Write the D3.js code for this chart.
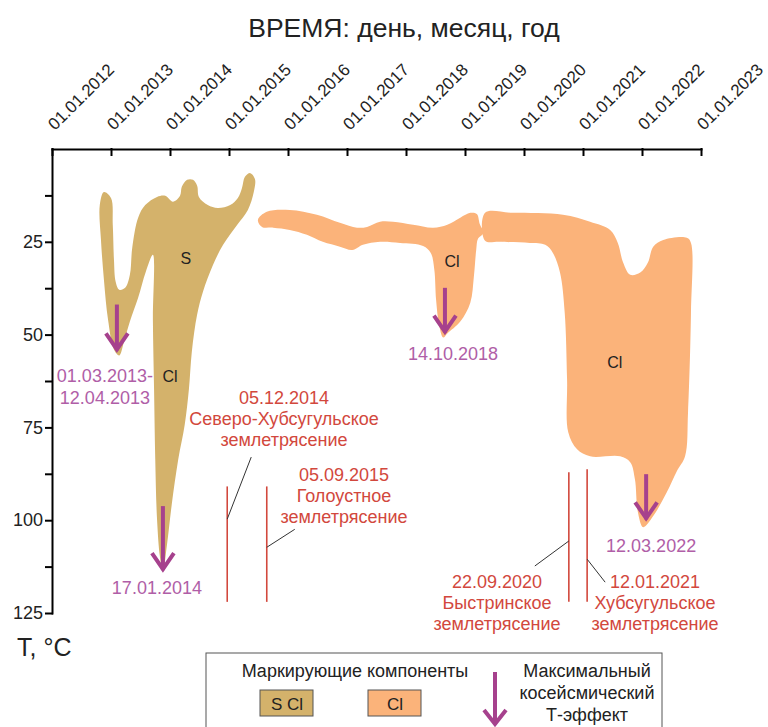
<!DOCTYPE html>
<html>
<head>
<meta charset="utf-8" />
<title>Косейсмический Т-эффект</title>
<script src="https://d3js.org/d3.v7.min.js"></script>
<style>
body{
    margin:0;
    background:#fff;
}
svg text{
    font-family:"Liberation Sans", Arial, sans-serif;
}
.axe path, .axe line{
    stroke:#000;
    stroke-width:2px;
    stroke-linecap:square;
}
</style>
</head>
<body>
<div id="graphe"></div>
<script>

// axes
var years = [2012, 2013, 2014, 2015, 2016, 2017, 2018, 2019, 2020, 2021, 2022, 2023];
var xTickLabels = ["01.01.2012", "01.01.2013", "01.01.2014", "01.01.2015", "01.01.2016", "01.01.2017",
                   "01.01.2018", "01.01.2019", "01.01.2020", "01.01.2021", "01.01.2022", "01.01.2023"];
var yTicks = [12.5, 25, 37.5, 50, 62.5, 75, 87.5, 100, 112.5, 125];
var yTickLabels = ["", "25", "", "50", "", "75", "", "100", "", "125"];

// contours [год, T]
var contourSCl = [[2012.88,11.6],[2013.00,13.2],[2013.03,20.4],[2013.05,29.8],[2013.08,35.8],[2013.14,37.9],
    [2013.24,37.4],[2013.32,33.9],[2013.36,26.6],[2013.46,18.5],[2013.58,15.1],[2013.78,12.9],[2013.92,12.6],
    [2014.05,14.2],[2014.17,12.6],[2014.20,10.2],[2014.29,8.3],[2014.39,8.3],[2014.46,9.9],[2014.49,12.9],
    [2014.64,15.1],[2014.81,15.9],[2015.02,15.1],[2015.15,13.2],[2015.22,10.5],[2015.27,7.5],[2015.36,6.5],
    [2015.44,8.1],[2015.42,11.6],[2015.32,16.4],[2015.14,20.4],[2014.90,25.8],[2014.73,31.2],[2014.56,38.4],
    [2014.46,44.6],[2014.37,54.6],[2014.32,64.8],[2014.25,74.2],[2014.14,83.6],[2014.03,95.7],[2013.95,106.5],
    [2013.88,113.7],[2013.83,109.9],[2013.78,99.7],[2013.75,83.6],[2013.73,64.8],[2013.71,46.0],[2013.71,28.5],
    [2013.59,33.1],[2013.46,40.1],[2013.32,46.5],[2013.22,51.9],[2013.14,55.6],[2013.05,54.0],[2012.95,46.0],
    [2012.88,35.2],[2012.83,24.5],[2012.81,15.1]];

var contourCl1 = [[2015.49,19.1],[2015.64,16.9],[2016.03,16.4],[2016.49,17.7],[2016.88,19.9],[2017.17,21.2],
    [2017.34,21.0],[2017.56,19.6],[2017.78,19.6],[2018.12,20.4],[2018.46,21.2],[2018.70,20.4],[2018.92,18.5],
    [2019.09,17.2],[2019.20,17.5],[2019.25,20.2],[2019.31,22.6],[2019.22,24.2],[2019.19,27.2],[2019.15,34.4],
    [2019.09,41.4],[2018.92,46.5],[2018.70,49.7],[2018.63,50.8],[2018.56,47.3],[2018.51,40.6],[2018.48,32.5],
    [2018.42,28.0],[2018.29,26.1],[2017.90,25.3],[2017.56,25.0],[2017.27,25.8],[2017.09,27.2],[2016.88,26.3],
    [2016.59,25.0],[2016.32,23.1],[2016.03,21.8],[2015.75,21.2],[2015.56,21.0]];

var contourCl2 = [[2019.34,17.2],[2019.81,17.2],[2020.66,17.7],[2021.12,19.6],[2021.46,21.8],[2021.59,25.3],
    [2021.68,30.6],[2021.80,33.9],[2021.97,33.3],[2022.10,30.6],[2022.19,26.3],[2022.36,24.5],[2022.76,23.9],
    [2022.83,25.3],[2022.83,44.1],[2022.78,71.0],[2022.73,82.8],[2022.59,86.8],[2022.42,92.5],[2022.19,98.9],
    [2022.02,101.9],[2021.93,97.8],[2021.88,89.0],[2021.80,84.4],[2021.63,82.8],[2021.12,82.8],[2020.90,80.9],
    [2020.75,76.3],[2020.73,62.1],[2020.69,44.1],[2020.61,33.3],[2020.49,28.0],[2020.36,25.8],[2020.10,25.3],
    [2019.59,25.0],[2019.34,24.7]];

var componentLabels = ["S", "Cl", "Cl", "Cl"];
var componentDates = [2014.27, 2014.00, 2018.78, 2021.54];
var componentT = [30.9, 62.9, 31.7, 58.9];

// максимальный косейсмический Т-эффект
var arrowDates = [2013.10, 2013.88, 2018.66, 2022.07];
var arrowFrom = [41.9, 96.2, 37.4, 87.6];
var arrowTo = [54.8, 114.0, 50.0, 100.3];
var arrowLabels = [["01.03.2013-", "12.04.2013"], ["17.01.2014"], ["14.10.2018"], ["12.03.2022"]];

// землетрясения
var quakeDates = [2014.97, 2015.64, 2020.76, 2021.07];
var quakeTop = [90.9, 90.9, 87.1, 86.3];
var quakeBottom = [122, 122, 122, 122];
var quakeLabels = [["05.12.2014", "Северо-Хубсугульское", "землетрясение"],
                   ["05.09.2015", "Голоустное", "землетрясение"],
                   ["22.09.2020", "Быстринское", "землетрясение"],
                   ["12.01.2021", "Хубсугульское", "землетрясение"]];

var colTan = "#d4b26b", colOrange = "#fbb37a", colArrow = "#a6418d",
    colDate = "#b05ea7", colRed = "#d2483d";

var margin = {top: 149, right: 67, bottom: 114, left: 52},
    width = 768 - margin.left - margin.right,
    height = 727 - margin.top - margin.bottom;

var svg = d3.select("#graphe").append("svg")
    .attr("width", 768)
    .attr("height", 727);

var g = svg.append("g")
    .attr("transform", "translate(" + margin.left + "," + margin.top + ")");

var x = d3.scaleLinear().domain([2012, 2023]).range([0, width]);
var y = d3.scaleLinear().domain([0, 125]).range([0, height]);

// formes
var contour = d3.line()
    .x(function(d){ return x(d[0]); })
    .y(function(d){ return y(d[1]); })
    .curve(d3.curveCatmullRomClosed.alpha(0.5));

g.append("path").attr("d", contour(contourSCl)).attr("fill", colTan);
g.append("path").attr("d", contour(contourCl1)).attr("fill", colOrange);
g.append("path").attr("d", contour(contourCl2)).attr("fill", colOrange);

g.selectAll(".comp")
    .data(componentLabels)
    .enter().append("text")
    .attr("class", "comp")
    .attr("x", function(d, i){ return x(componentDates[i]); })
    .attr("y", function(d, i){ return y(componentT[i]); })
    .attr("text-anchor", "middle")
    .style("font-size", "16px")
    .attr("fill", "#222")
    .text(function(d){ return d; });

// AXES
g.append("g")
    .attr("class", "axe")
    .call(d3.axisTop(x).tickValues(years).tickSize(-6).tickSizeOuter(0).tickFormat(""));

g.selectAll(".xlab")
    .data(years)
    .enter().append("text")
    .attr("class", "xlab")
    .attr("transform", function(d){ return "translate(" + (x(d) + 3) + ",-18) rotate(-45)"; })
    .style("font-size", "17px")
    .attr("fill", "#222")
    .text(function(d, i){ return xTickLabels[i]; });

g.append("g")
    .attr("class", "axe")
    .call(d3.axisLeft(y).tickValues(yTicks).tickSize(6).tickSizeOuter(0)
        .tickFormat(function(d, i){ return yTickLabels[i]; }))
    .style("font-size", "18px")
    .style("font-family", "'Liberation Sans', Arial, sans-serif")
    .selectAll("text")
    .attr("fill", "#222");

svg.append("text")
    .attr("x", 404).attr("y", 37)
    .attr("text-anchor", "middle")
    .style("font-size", "26.5px")
    .attr("fill", "#222")
    .text("ВРЕМЯ: день, месяц, год");

svg.append("text")
    .attr("x", 17).attr("y", 656)
    .style("font-size", "25px")
    .attr("fill", "#222")
    .text("T, °C");

// линии землетрясений
g.selectAll(".quake")
    .data(quakeDates)
    .enter().append("line")
    .attr("class", "quake")
    .attr("x1", function(d){ return x(d); })
    .attr("x2", function(d){ return x(d); })
    .attr("y1", function(d, i){ return y(quakeTop[i]); })
    .attr("y2", function(d, i){ return y(quakeBottom[i]); })
    .attr("stroke", colRed)
    .attr("stroke-width", 1.6);

// выноски: T на линии, сдвиг до подписи
var leaders = [[99.7, 24, -62], [107.3, 28, -18], [105.6, -34, 25], [110.5, 18, 23]];
g.selectAll(".leader")
    .data(quakeDates)
    .enter().append("line")
    .attr("class", "leader")
    .attr("x1", function(d){ return x(d); })
    .attr("y1", function(d, i){ return y(leaders[i][0]); })
    .attr("x2", function(d, i){ return x(d) + leaders[i][1]; })
    .attr("y2", function(d, i){ return y(leaders[i][0]) + leaders[i][2]; })
    .attr("stroke", "#333")
    .attr("stroke-width", 1);

// подписи землетрясений (центр, первая строка)
var quakeText = [[284, 404], [344, 481], [497, 588], [655, 588]];
quakeLabels.forEach(function(lines, i){
    var t = svg.append("text")
        .attr("text-anchor", "middle")
        .style("font-size", "18px")
        .attr("fill", colRed);
    lines.forEach(function(s, j){
        t.append("tspan")
            .attr("x", quakeText[i][0])
            .attr("y", quakeText[i][1] + j * 21)
            .text(s);
    });
});

// стрелки
g.selectAll(".shaft")
    .data(arrowDates)
    .enter().append("line")
    .attr("class", "shaft")
    .attr("x1", function(d){ return x(d); })
    .attr("x2", function(d){ return x(d); })
    .attr("y1", function(d, i){ return y(arrowFrom[i]); })
    .attr("y2", function(d, i){ return y(arrowTo[i]) - 2; })
    .attr("stroke", colArrow)
    .attr("stroke-width", 4);

g.selectAll(".head")
    .data(arrowDates)
    .enter().append("path")
    .attr("class", "head")
    .attr("d", function(d, i){
        var ax = x(d), ay = y(arrowTo[i]) - 3;
        return "M" + (ax - 11) + "," + (ay - 16) + "L" + ax + "," + ay + "L" + (ax + 11) + "," + (ay - 16);
    })
    .attr("fill", "none")
    .attr("stroke", colArrow)
    .attr("stroke-width", 4);

var arrowText = [[-12, 30], [-6, 22], [8, 25], [5, 31]];
arrowLabels.forEach(function(lines, i){
    var t = g.append("text")
        .attr("text-anchor", "middle")
        .style("font-size", "18px")
        .attr("fill", colDate);
    lines.forEach(function(s, j){
        t.append("tspan")
            .attr("x", x(arrowDates[i]) + arrowText[i][0])
            .attr("y", y(arrowTo[i]) + arrowText[i][1] + j * 22)
            .text(s);
    });
});

// легенда
var leg = svg.append("g");
leg.append("rect")
    .attr("x", 206).attr("y", 653)
    .attr("width", 456).attr("height", 100)
    .attr("fill", "#fff")
    .attr("stroke", "#555")
    .attr("stroke-width", 1);
leg.append("text")
    .attr("x", 355).attr("y", 677)
    .attr("text-anchor", "middle")
    .style("font-size", "18px")
    .attr("fill", "#222")
    .text("Маркирующие компоненты");
var swatches = [[260, colTan, "S Cl"], [368, colOrange, "Cl"]];
swatches.forEach(function(s){
    leg.append("rect")
        .attr("x", s[0]).attr("y", 690)
        .attr("width", 53).attr("height", 26)
        .attr("fill", s[1])
        .attr("stroke", "#555");
    leg.append("text")
        .attr("x", s[0] + 27).attr("y", 710)
        .attr("text-anchor", "middle")
        .style("font-size", "17px")
        .attr("fill", "#222")
        .text(s[2]);
});
leg.append("line")
    .attr("x1", 495).attr("x2", 495)
    .attr("y1", 672).attr("y2", 724)
    .attr("stroke", colArrow).attr("stroke-width", 4);
leg.append("path")
    .attr("d", "M484,710L495,724L506,710")
    .attr("fill", "none")
    .attr("stroke", colArrow).attr("stroke-width", 4);
var legText = leg.append("text")
    .attr("text-anchor", "middle")
    .style("font-size", "18px")
    .attr("fill", "#222");
["Максимальный", "косейсмический", "Т-эффект"].forEach(function(s, j){
    legText.append("tspan").attr("x", 587).attr("y", 677 + j * 22).text(s);
});

</script>
</body>
</html>
